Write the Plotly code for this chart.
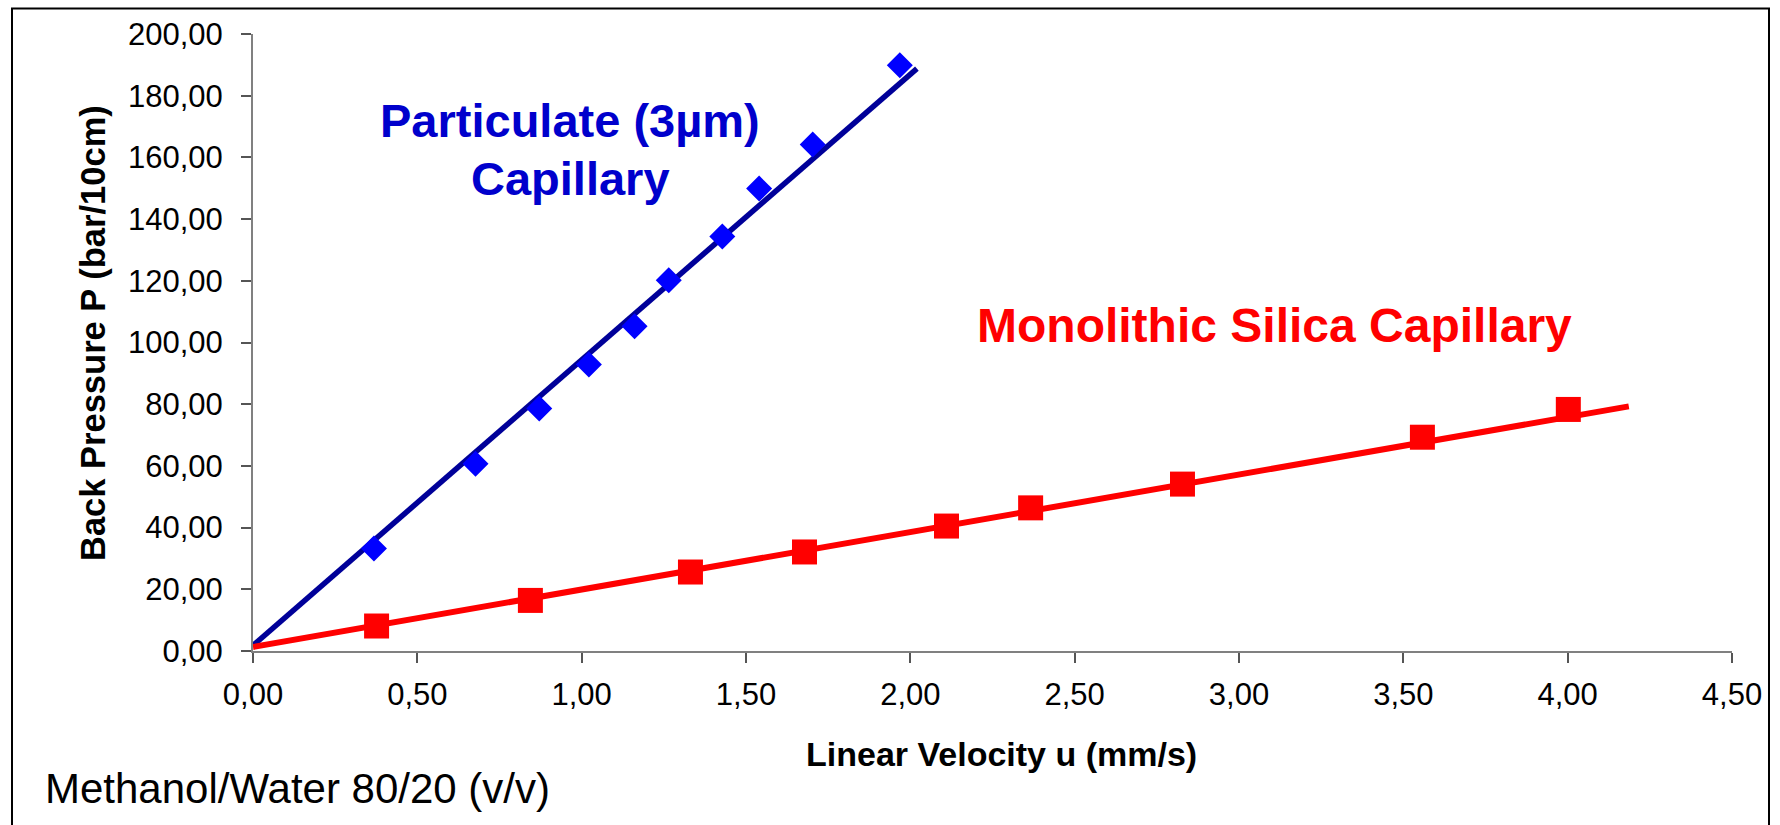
import plotly.graph_objects as go

# ---- data ----
part_u = [0.368, 0.677, 0.871, 1.022, 1.161, 1.265, 1.428, 1.540, 1.703, 1.968]
part_p = [33.2, 60.7, 78.6, 92.9, 105.3, 120.2, 134.4, 149.9, 164.2, 189.9]
part_fit_u = [0.0, 2.02]
part_fit_p = [1.8, 188.8]

mono_u = [0.376, 0.844, 1.331, 1.678, 2.110, 2.366, 2.828, 3.558, 4.002]
mono_p = [8.1, 16.4, 25.6, 32.1, 40.5, 46.4, 54.1, 69.3, 78.3]
mono_fit_u = [0.0, 4.186]
mono_fit_p = [1.3, 79.3]

x_tickvals = [0.0, 0.5, 1.0, 1.5, 2.0, 2.5, 3.0, 3.5, 4.0, 4.5]
x_ticktext = ["0,00", "0,50", "1,00", "1,50", "2,00", "2,50", "3,00", "3,50", "4,00", "4,50"]
y_tickvals = [0, 20, 40, 60, 80, 100, 120, 140, 160, 180, 200]
y_ticktext = ["0,00", "20,00", "40,00", "60,00", "80,00", "100,00", "120,00",
              "140,00", "160,00", "180,00", "200,00"]

FONT = "Liberation Sans, Arial, sans-serif"

fig = go.Figure()
fig.add_trace(go.Scatter(x=part_fit_u, y=part_fit_p, mode="lines",
                         line=dict(color="#000099", width=5.5), showlegend=False,
                         hoverinfo="skip", cliponaxis=False))
fig.add_trace(go.Scatter(x=mono_fit_u, y=mono_fit_p, mode="lines",
                         line=dict(color="#FF0000", width=6), showlegend=False,
                         hoverinfo="skip", cliponaxis=False))
fig.add_trace(go.Scatter(x=part_u, y=part_p, mode="markers",
                         marker=dict(symbol="diamond", size=20, color="#0000FF",
                                     line=dict(width=0)),
                         showlegend=False, cliponaxis=False))
fig.add_trace(go.Scatter(x=mono_u, y=mono_p, mode="markers",
                         marker=dict(symbol="square", size=25, color="#FF0000",
                                     line=dict(width=0)),
                         showlegend=False, cliponaxis=False))

axis_common = dict(
    showgrid=False, zeroline=False, showline=True, linecolor="#808080", linewidth=2,
    ticks="outside", ticklen=10, tickwidth=1.5, tickcolor="#555555",
    tickfont=dict(family=FONT, size=31, color="black"),
)
fig.update_xaxes(range=[0, 4.5], tickvals=x_tickvals, ticktext=x_ticktext,
                 ticklabelstandoff=5, **axis_common)
fig.update_yaxes(range=[0, 200], tickvals=y_tickvals, ticktext=y_ticktext,
                 ticklabelstandoff=12, **axis_common)

L, R, T, B = 253, 48, 34, 174
PW, PH = 1780 - L - R, 825 - T - B


def px(xp):
    return (xp - L) / PW


def py(yp):
    return (825 - B - yp) / PH


annotations = [
    dict(text="<b>Particulate (3µm)</b>", x=px(570), y=py(120), font=dict(size=47, color="#0000CC")),
    dict(text="<b>Capillary</b>", x=px(570), y=py(178), font=dict(size=47, color="#0000CC")),
    dict(text="<b>Monolithic Silica Capillary</b>", x=px(1274), y=py(325), font=dict(size=48, color="#FF0000")),
    dict(text="<b>Linear Velocity u (mm/s)</b>", x=px(1001), y=py(754), font=dict(size=34, color="black")),
    dict(text="<b>Back Pressure P (bar/10cm)</b>", x=px(93), y=py(333), textangle=-90,
         font=dict(size=34.5, color="black")),
    dict(text="Methanol/Water 80/20 (v/v)", x=px(43), y=py(788), xanchor="left",
         font=dict(size=42, color="black")),
]
for a in annotations:
    a.setdefault("xanchor", "center")
    a["xref"] = "paper"
    a["yref"] = "paper"
    a["yanchor"] = "middle"
    a["showarrow"] = False
    a["font"]["family"] = FONT

fig.update_layout(
    width=1780, height=825,
    margin=dict(l=L, r=R, t=T, b=B),
    paper_bgcolor="white", plot_bgcolor="white",
    annotations=annotations,
    shapes=[dict(type="rect", xref="paper", yref="paper",
                 x0=px(12), x1=px(1769), y0=py(840), y1=py(8.5),
                 line=dict(color="black", width=2), layer="above")],
    showlegend=False,
)

fig.write_html("out.html")
